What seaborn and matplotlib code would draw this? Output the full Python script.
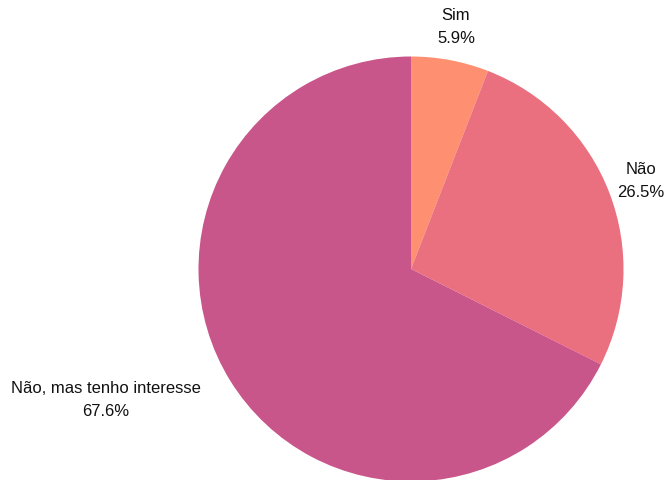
import matplotlib
matplotlib.use("Agg")
import matplotlib.pyplot as plt
import seaborn as sns

# Survey answers and their shares (%)
categories = ["Sim", "Não", "Não, mas tenho interesse"]
shares = [5.9, 26.5, 67.6]
slice_colors = ["#fe8f70", "#ea6f7f", "#c9568a"]

# Label anchors, in units of the pie radius
label_x = [0.212, 1.082, -1.435]
label_y = [1.144, 0.420, -0.612]

sns.set_theme(style="white")
plt.rcParams["font.family"] = ["Liberation Sans", "DejaVu Sans"]

W, H = 667, 481
fig = plt.figure(figsize=(W / 100, H / 100), dpi=100)

cx, cy, r = 411, 270, 212.5
ax = fig.add_axes([(cx - r) / W, (H - cy - r) / H, 2 * r / W, 2 * r / H])

wedges, _ = ax.pie(shares, colors=slice_colors, startangle=90,
                   counterclock=False, radius=1.0,
                   wedgeprops=dict(linewidth=0, clip_on=False))
ax.set_xlim(-1, 1)
ax.set_ylim(-1, 1)
ax.set_aspect("auto")
ax.axis("off")

for name, val, lx, ly in zip(categories, shares, label_x, label_y):
    ax.text(lx, ly, f"{name}\n{val:.1f}%", ha="center", va="center",
            fontsize=12, color="#111111", linespacing=1.65, clip_on=False)

fig.savefig("out.png", dpi=100)
